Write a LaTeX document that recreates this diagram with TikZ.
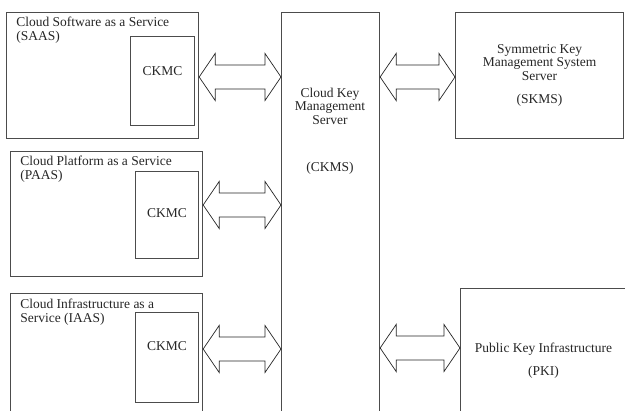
\documentclass[tikz,border=0pt]{standalone}
\usepackage{fontspec}
\setmainfont{Liberation Serif}
\usetikzlibrary{calc}

% open two-headed block arrow between two points
\newcommand{\fatarrow}[2]{%
  \draw[fatline] (#1) -- ++(16,-23.5) -- ++(0,11.5) -- ($(#2)+(-16,-12)$) -- ++(0,-11.5)
    -- (#2) -- ++(-16,23.5) -- ++(0,-11.5) -- ($(#1)+(16,12)$) -- ++(0,11.5) -- cycle;}

\begin{document}
\begin{tikzpicture}[x=0.025cm, y=-0.025cm, font=\fontsize{9.6}{9.6}\selectfont]
        \tikzset{box/.style={draw=black!70, line width=0.8pt, anchor=north west, inner sep=0pt, align=center, text=black!85},
                 lbl/.style={anchor=north west, inner sep=0pt, align=left, text=black!85},
                 fatline/.style={draw=black!85, line width=0.5pt, line join=miter}}

        \useasboundingbox (0,0) rectangle (625,411);
        \clip (0,0) rectangle (625,411);

        % service boxes with their clients
        \node[box, minimum width=4.8cm, minimum height=3.15cm] (saas) at (6,12) {};
        \node[lbl] (saaslbl) at ([shift={(10,5)}]saas.north west) {Cloud Software as a Service\\(SAAS)};
        \node[box, minimum width=1.6cm, minimum height=2.22cm] (ckmc1) at (130,36) {};
        \node[text=black!85] (ckmc1txt) at ([yshift=-0.88cm]ckmc1.north) {CKMC};

        \node[box, minimum width=4.8cm, minimum height=3.125cm] (paas) at (10,151) {};
        \node[lbl] (paaslbl) at ([shift={(10,5)}]paas.north west) {Cloud Platform as a Service\\(PAAS)};
        \node[box, minimum width=1.575cm, minimum height=2.175cm] (ckmc2) at (135,171) {};
        \node[text=black!85] (ckmc2txt) at ([yshift=-1.05cm]ckmc2.north) {CKMC};

        \node[box, minimum width=4.8cm, minimum height=3.5cm] (iaas) at (10,293) {};
        \node[lbl] (iaaslbl) at ([shift={(10,6)}]iaas.north west) {Cloud Infrastructure as a\\Service (IAAS)};
        \node[box, minimum width=1.575cm, minimum height=2.25cm] (ckmc3) at (135,312) {};
        \node[text=black!85] (ckmc3txt) at ([yshift=-0.85cm]ckmc3.north) {CKMC};

        % key servers
        \node[box, minimum width=2.45cm, minimum height=11cm] (ckms) at (281,12) {};
        \node[text=black!85, align=center] (ckmstxt) at (330,131) {Cloud Key\\Management\\Server\\[24pt](CKMS)};

        \node[box, minimum width=4.2cm, minimum height=3.15cm] (skms) at (455,12)
            {Symmetric Key\\Management System\\Server\\[7pt](SKMS)};
        \node[box, minimum width=4.15cm, minimum height=3.6cm] (pki) at (460,288)
            {Public Key Infrastructure\\[7pt](PKI)};

        \coordinate (a1l) at (saas.east |- 0,77);
        \coordinate (a1r) at (ckms.west |- 0,77);
        \coordinate (a2l) at (paas.east |- 0,205);
        \coordinate (a2r) at (ckms.west |- 0,205);
        \coordinate (a3l) at (iaas.east |- 0,349);
        \coordinate (a3r) at (ckms.west |- 0,349);
        \coordinate (a4l) at (ckms.east |- 0,77);
        \coordinate (a4r) at (skms.west |- 0,77);
        \coordinate (a5l) at (ckms.east |- 0,348);
        \coordinate (a5r) at (pki.west |- 0,348);

        \fatarrow{a1l}{a1r}
        \fatarrow{a2l}{a2r}
        \fatarrow{a3l}{a3r}
        \fatarrow{a4l}{a4r}
        \fatarrow{a5l}{a5r}
    \end{tikzpicture}
\end{document}
